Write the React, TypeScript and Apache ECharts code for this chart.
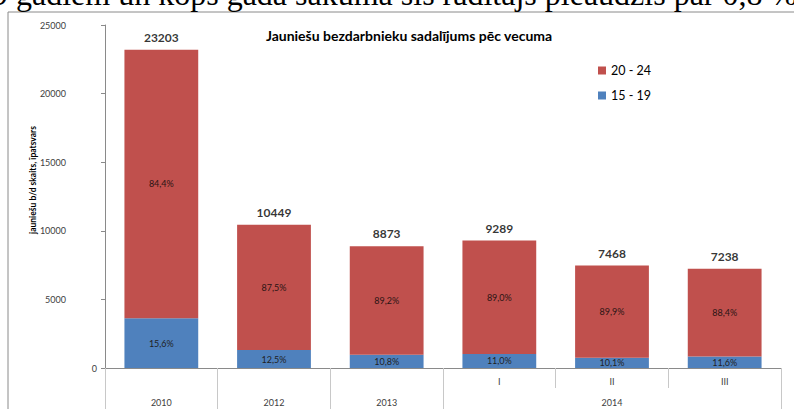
import React, { useEffect, useRef } from "react";
import * as echarts from "echarts";

const categories = ["2010", "2012", "2013", "2014 I", "2014 II", "2014 III"];
const periodLabels = ["", "", "", "I", "II", "III"];
const yearRow = ["2010", "2012", "2013", "", "2014", ""];
const age1519 = [3620, 1306, 958, 1022, 754, 840];
const age2024 = [19583, 9143, 7915, 8267, 6714, 6398];
const totals = [23203, 10449, 8873, 9289, 7468, 7238];
const pct1519 = ["15,6%", "12,5%", "10,8%", "11,0%", "10,1%", "11,6%"];
const pct2024 = ["84,4%", "87,5%", "89,2%", "89,0%", "89,9%", "88,4%"];
const yTicks = [0, 5000, 10000, 15000, 20000, 25000];

const titleText = "Jauniešu bezdarbnieku sadalījums pēc vecuma";
const yAxisName = "jauniešu b/d skaits, īpatsvars";
const docText = "9 gadiem un kopš gada sākuma šis rādītājs pieaudzis par 0,8 %";

const RED = "#C0504D";
const BLUE = "#4F81BD";
const FONT = "Lato";

export default function App() {
  const ref = useRef<HTMLDivElement>(null);
  useEffect(() => {
    if (!ref.current) return;
    const chart = echarts.init(ref.current, null, { renderer: "svg" });
    chart.setOption({
      animation: false,
      backgroundColor: "#ffffff",
      textStyle: { fontFamily: FONT },
      title: {
        text: titleText,
        left: 404,
        top: 23,
        textAlign: "center",
        textStyle: { fontSize: 14, fontWeight: "bold", color: "#000", fontFamily: FONT },
      },
      legend: {
        data: ["20 - 24", "15 - 19"],
        orient: "vertical",
        left: 593,
        top: 59,
        itemWidth: 8,
        itemHeight: 8,
        itemGap: 12,
        icon: "rect",
        textStyle: { fontSize: 12.5, color: "#000", fontFamily: FONT },
      },
      graphic: [
        {
          type: "rect",
          shape: { x: 8, y: 12, width: 820, height: 440 },
          style: { fill: "none", stroke: "#8a8a8a", lineWidth: 1 },
          silent: true,
          z: -1,
        },
        {
          type: "text",
          x: -8,
          y: -6,
          style: {
            text: docText,
            fontFamily: "Liberation Serif",
            fontSize: 32,
            fill: "#000",
            verticalAlign: "middle",
            align: "left",
          },
          silent: true,
        },
      ],
      grid: { left: 105, right: 13, top: 25, bottom: 41, containLabel: false },
      xAxis: [
        {
          type: "category",
          data: categories,
          position: "bottom",
          axisLine: { show: true, lineStyle: { color: "#8a8a8a", width: 1 } },
          axisTick: { show: true, interval: 0, length: 20, lineStyle: { color: "#c8c8c8" } },
          axisLabel: {
            interval: 0,
            margin: 9,
            fontSize: 9,
            color: "#404040",
            formatter: (_v: string, i: number) => periodLabels[i],
          },
        },
        {
          type: "category",
          data: yearRow,
          position: "bottom",
          axisLine: { show: false },
          axisTick: {
            show: true,
            interval: (i: number) => i <= 3,
            length: 50,
            lineStyle: { color: "#c8c8c8" },
          },
          axisLabel: { interval: 0, margin: 30, fontSize: 9, color: "#404040" },
        },
      ],
      yAxis: {
        type: "value",
        min: yTicks[0],
        max: yTicks[yTicks.length - 1],
        interval: 5000,
        splitLine: { show: false },
        axisLine: { show: true, lineStyle: { color: "#8a8a8a" } },
        axisTick: { show: true, length: 4, lineStyle: { color: "#8a8a8a" } },
        axisLabel: {
          margin: 8,
          fontSize: 9,
          color: "#404040",
          formatter: (v: number) => (v === 0 ? "{z|0}" : "{n|" + v + "}"),
          rich: {
            z: { fontSize: 9, color: "#404040" },
            n: { fontSize: 9, color: "#404040", padding: [0, 31, 0, 0] },
          },
        },
        name: yAxisName,
        nameLocation: "middle",
        nameGap: 68,
        nameMoveOverlap: false,
        nameRotate: 90,
        nameTextStyle: {
          fontSize: 8.5,
          fontWeight: "bold",
          color: "#000",
          padding: [0, 0, 0, 33],
        },
      },
      series: [
        {
          name: "15 - 19",
          type: "bar",
          stack: "total",
          data: age1519,
          barWidth: "65.5%",
          itemStyle: { color: BLUE },
          label: {
            show: true,
            position: "inside",
            fontSize: 9,
            color: "#1f1f1f",
            formatter: (p: any) => pct1519[p.dataIndex],
          },
        },
        {
          name: "20 - 24",
          type: "bar",
          stack: "total",
          data: age2024,
          barWidth: "65.5%",
          itemStyle: { color: RED },
          label: {
            show: true,
            position: "inside",
            fontSize: 9,
            color: "#2a1414",
            formatter: (p: any) => pct2024[p.dataIndex],
          },
        },
        {
          name: "Kopā",
          type: "scatter",
          data: totals,
          symbolSize: 1,
          itemStyle: { color: "rgba(0,0,0,0)" },
          silent: true,
          label: {
            show: true,
            position: "top",
            distance: 6,
            fontSize: 12,
            fontWeight: "bold",
            color: "#000",
            formatter: (p: any) => String(totals[p.dataIndex]),
          },
        },
      ],
    });
    return () => chart.dispose();
  }, []);
  return (
    <div
      ref={ref}
      style={{ position: "fixed", left: 0, top: 0, width: 794, height: 409 }}
    />
  );
}
